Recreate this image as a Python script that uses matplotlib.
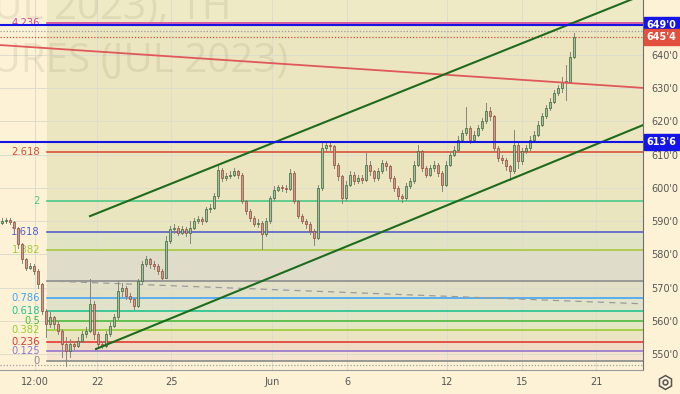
import matplotlib
matplotlib.use("Agg")
import matplotlib.pyplot as plt
from matplotlib.patches import Rectangle
from matplotlib.lines import Line2D
import matplotlib.transforms as mtransforms

# hourly candles, one entry per ~4px slot of the chart (price in cents/bu)
closes = [
    590.0, 590.3, 589.8, 588.0, 583.0, 578.5, 576.0, 576.5, 575.0, 571.0,
    563.0, 559.0, 561.0, 559.0, 557.0, 553.0, 551.0, 553.0, 552.5, 554.0,
    556.0, 557.0, 565.0, 556.0, 553.0, 552.5, 556.0, 558.5, 561.0, 569.0,
    570.0, 567.5, 566.5, 564.5, 572.0, 577.0, 578.5, 577.0, 576.5, 575.0,
    573.0, 584.0, 587.5, 588.0, 586.5, 587.5, 586.5, 588.0, 590.0, 590.5,
    590.0, 593.5, 594.0, 597.5, 605.5, 603.0, 603.5, 604.0, 605.0, 604.0,
    596.0, 593.0, 591.0, 589.0, 589.5, 586.0, 590.0, 597.0, 599.5, 600.2,
    600.0, 599.8, 604.5, 596.0, 591.5, 590.0, 589.0, 587.0, 585.0, 600.0,
    612.0, 613.0, 612.5, 607.0, 603.5, 597.0, 601.0, 604.0, 602.0, 603.0,
    602.5, 607.0, 605.0, 603.0, 605.0, 607.5, 606.5, 603.0, 600.0, 597.5,
    597.0, 600.5, 602.0, 607.0, 611.0, 606.0, 604.0, 606.0, 607.0, 604.5,
    601.0, 607.0, 610.0, 611.5, 614.5, 616.5, 618.0, 614.5, 616.0, 618.0,
    620.0, 623.0, 621.5, 612.0, 609.0, 608.5, 606.5, 605.0, 613.0, 608.0,
    611.0, 612.0, 614.5, 616.0, 619.0, 621.5, 624.0, 626.0, 628.5, 630.0,
    632.0, 632.0, 639.5, 645.5,
]
highs = [
    590.8, 591.0, 590.8, 590.0, 588.3, 583.5, 579.0, 577.5, 577.0, 575.5,
    571.5, 563.5, 562.5, 561.5, 560.0, 557.5, 555.0, 554.5, 554.0, 555.0,
    557.0, 558.0, 572.5, 566.0, 556.5, 554.0, 557.0, 559.5, 562.0, 572.0,
    571.5, 570.5, 568.5, 567.0, 572.5, 578.0, 579.5, 579.0, 578.0, 577.0,
    575.5, 585.5, 588.5, 589.0, 588.5, 588.5, 588.2, 590.0, 591.0, 591.5,
    591.2, 594.2, 595.0, 598.5, 606.5, 606.0, 604.5, 605.0, 606.0, 605.5,
    604.5, 596.5, 593.5, 591.5, 590.5, 590.0, 591.0, 597.5, 600.5, 601.0,
    601.0, 600.8, 605.8, 605.0, 596.5, 592.2, 590.5, 589.8, 587.5, 601.0,
    614.0, 614.0, 614.0, 613.0, 607.5, 604.0, 602.0, 605.0, 604.8, 604.0,
    604.0, 610.5, 608.0, 605.5, 606.0, 608.5, 608.0, 607.0, 603.5, 600.5,
    598.2, 601.5, 603.0, 608.0, 613.0, 611.5, 606.5, 607.0, 608.0, 607.5,
    605.0, 608.0, 611.0, 612.5, 615.5, 617.5, 624.5, 618.5, 617.0, 619.0,
    621.0, 625.5, 624.5, 622.0, 612.5, 609.8, 609.0, 607.0, 617.5, 613.5,
    612.0, 613.0, 615.5, 617.0, 620.0, 622.5, 625.0, 627.0, 629.5, 631.0,
    633.5, 637.0, 641.0, 646.5,
]
lows = [
    589.2, 589.5, 589.0, 587.2, 582.0, 577.5, 575.2, 575.5, 574.0, 570.0,
    562.0, 555.0, 558.0, 557.8, 556.0, 549.0, 546.5, 549.0, 551.5, 552.0,
    553.5, 555.0, 556.5, 554.5, 552.0, 551.8, 552.0, 555.5, 558.0, 560.5,
    567.5, 566.5, 565.5, 563.5, 564.0, 571.5, 576.5, 576.0, 575.5, 574.0,
    572.5, 572.8, 583.5, 586.5, 585.8, 586.0, 585.5, 583.5, 587.5, 589.5,
    589.2, 589.8, 592.8, 593.5, 597.0, 602.2, 602.5, 603.0, 603.5, 603.0,
    595.5, 592.2, 590.0, 588.5, 588.2, 581.5, 585.5, 589.5, 596.5, 599.0,
    599.2, 598.8, 599.5, 595.5, 590.8, 589.5, 588.0, 586.0, 582.8, 584.5,
    599.5, 611.2, 611.5, 606.0, 602.5, 595.5, 596.5, 600.5, 601.2, 601.5,
    601.5, 602.0, 604.0, 602.2, 602.5, 604.5, 605.5, 602.2, 599.2, 596.8,
    595.8, 596.5, 600.0, 601.5, 606.5, 605.2, 603.2, 603.5, 605.2, 603.5,
    599.0, 600.5, 606.5, 609.5, 611.0, 614.0, 616.0, 613.5, 613.8, 615.5,
    617.5, 619.5, 620.5, 611.0, 608.2, 607.5, 605.5, 602.5, 604.5, 606.0,
    607.2, 610.5, 611.5, 614.0, 615.5, 618.5, 621.0, 623.5, 625.5, 628.0,
    629.0, 626.5, 631.5, 639.0,
]
first_open = 589.5

# fibonacci retracement
fib_base = 548.0
fib_span = 24.0
fib_ratios = [0, 0.125, 0.236, 0.382, 0.5, 0.618, 0.786, 1, 1.382, 1.618, 2, 2.618, 4.236]
fib_labels = ["0", "0.125", "0.236", "0.382", "0.5", "0.618", "0.786", "", "1.382", "1.618", "2", "2.618", "4.236"]

# horizontal levels and price tags
blue_levels = [649.0, 613.75]
last_price = 645.5
session_high = 647.3
session_low = 546.8
price_ticks = [550, 560, 570, 580, 590, 600, 610, 620, 630, 640]

time_ticks = ["12:00", "22", "25", "Jun", "6", "12", "15", "21"]

# styles
fib_colors = ["#8a8a8a", "#9575cd", "#e53935", "#9acd32", "#4cbb3c", "#22c38e", "#42a5f5",
              "#8c8c8c", "#a8c83c", "#5560c8", "#4cc98a", "#d9503c", "#d6439c"]
band_colors = ["#f6e4d0", "#f0dcc4", "#ebe4c2", "#e5e6c3", "#e1e6c6", "#e0e3c9", "#e2e1c8",
               "#dfdcc9", "#e0e3c4", "#e9e5be", "#ebe6bf", "#ebe6bf"]
time_tick_x = [35, 97, 171, 272, 347, 447, 522, 596]
bg = "#fdf2d5"

X_END = 643
Y_TOP, Y_BOT = 656.56, 545.18

fig = plt.figure(figsize=(6.8, 3.94), dpi=100, facecolor=bg)
ax = fig.add_axes([0, 24 / 394, 643 / 680, 370 / 394])
ax.set_facecolor(bg)
ax.set_xlim(0, X_END)
ax.set_ylim(Y_BOT, Y_TOP)

# fib bands
fib_x0 = 47
levels = [fib_base + fib_span * r for r in fib_ratios]
for i in range(len(levels) - 1):
    ax.fill_between([fib_x0, X_END], levels[i], levels[i + 1], color=band_colors[i], lw=0, zorder=0)
ax.fill_between([fib_x0, X_END], levels[-1], Y_TOP, color="#eeeac6", lw=0, zorder=0)

# grid
for p in price_ticks:
    ax.axhline(p, color="#dedccd", lw=0.7, zorder=0.5)
for x in time_tick_x:
    ax.axvline(x, color="#dedccd", lw=0.7, zorder=0.5)

# watermark
ax.text(232, 650.8, "CORN (JUL 2023), 1H", ha="right", va="baseline", fontsize=29,
        family="Open Sans", color="#8a8560", alpha=0.15, zorder=1.5)
ax.text(288, 634.9, "CORN FUTURES (JUL 2023)", ha="right", va="baseline", fontsize=29,
        family="Open Sans", color="#8a8560", alpha=0.15, zorder=1.5)

# fib lines + labels
for lvl, lab, col in zip(levels, fib_labels, fib_colors):
    ax.plot([fib_x0, X_END], [lvl, lvl], color=col, lw=1.2, zorder=1)
    if lab:
        ax.text(40, lvl, lab, ha="right", va="center", fontsize=7.2, color=col, zorder=2)

# dashed / dotted helpers
ax.plot([fib_x0, X_END], [572.0, 565.1], color="#9a9a9a", lw=0.9, ls=(0, (5, 4)), zorder=2)
ax.axhline(session_high, color="#a0a0a0", lw=0.9, ls=(0, (1, 1.5)), zorder=2)
ax.axhline(last_price, color="#e0503c", lw=0.9, ls=(0, (1, 1.5)), zorder=2)
ax.axhline(session_low, color="#a0a0a0", lw=0.9, ls=(0, (1, 1.5)), zorder=2)

# candles
opens = [first_open] + closes[:-1]
xs = [2 + 4 * i for i in range(len(closes))]
for x, o, h, l, c in zip(xs, opens, highs, lows, closes):
    up = c >= o
    ax.plot([x, x], [l, h], color="#85857f", lw=0.7, zorder=3)
    body = max(abs(c - o), 0.25)
    ax.add_patch(Rectangle((x - 1.0, min(o, c)), 2.0, body,
                           facecolor="#b4b6a8" if up else "#b0a79e",
                           edgecolor="#2f6b2f" if up else "#a3402c", lw=0.5, zorder=3.2))

# trend lines
ax.plot([0, X_END], [643.0, 630.1], color="#e0585a", lw=1.3, zorder=4)
ax.plot([90, X_END], [591.5, 658.1], color="#1e6b1e", lw=1.5, zorder=4)
ax.plot([96, X_END], [551.5, 618.9], color="#1e6b1e", lw=1.5, zorder=4)
for lvl in blue_levels:
    ax.axhline(lvl, color="#1414e6", lw=1.5, zorder=4)

# axes
for s in ["top", "left"]:
    ax.spines[s].set_visible(False)
ax.spines["right"].set_color("#6f6f6f")
ax.spines["bottom"].set_color("#9a9a9a")
ax.yaxis.tick_right()
ax.set_yticks(price_ticks)
ax.set_yticklabels([f"{p}'0" for p in price_ticks])
ax.set_xticks(time_tick_x)
ax.set_xticklabels(time_ticks)
ax.tick_params(length=0, labelsize=7, colors="#555555")
ax.tick_params(axis="y", pad=6)
ax.tick_params(axis="x", pad=5)

tr = mtransforms.blended_transform_factory(ax.transAxes, ax.transData)
tags = [(649.0, "649'0", "#1414e6"), (last_price, "645'4", "#e0503c"), (613.75, "613'6", "#1414e6")]
for p, t, col in tags:
    ax.text(1.006, p, t, transform=tr, ha="left", va="center", fontsize=7, color="white",
            fontweight="bold", bbox=dict(boxstyle="square,pad=0.3", fc=col, ec=col), zorder=6,
            clip_on=False)

# settings gear
gx, gy = 665 / 680, 12 / 394
fig.add_artist(Line2D([gx], [gy], transform=fig.transFigure, marker="h", ms=10,
                      mfc="none", mec="#555555", mew=1.1))
fig.add_artist(Line2D([gx], [gy], transform=fig.transFigure, marker="o", ms=3.5,
                      mfc="none", mec="#555555", mew=1.1))

fig.savefig("out.png", dpi=100, facecolor=bg)
